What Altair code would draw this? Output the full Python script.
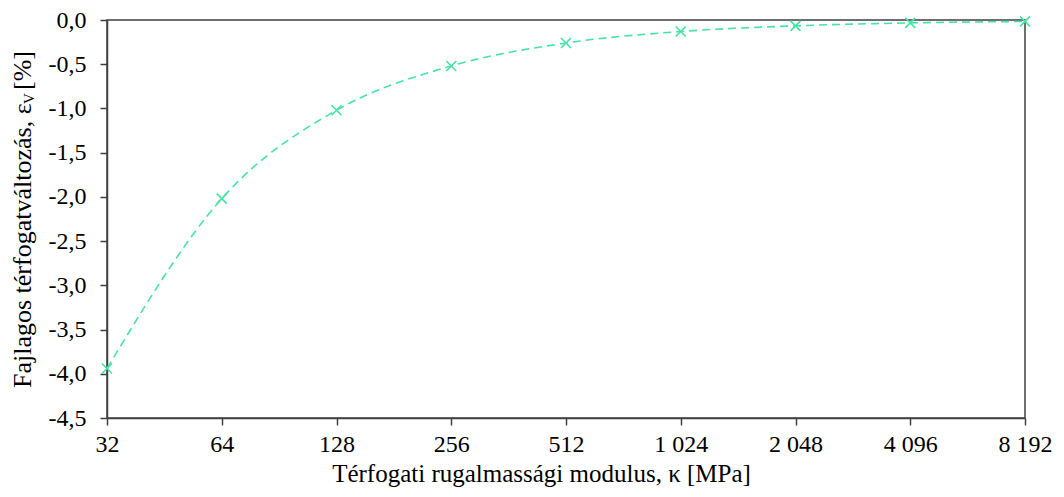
import altair as alt
import pandas as pd

kappa = [32, 64, 128, 256, 512, 1024, 2048, 4096, 8192]
eps_v = [-3.94, -2.02, -1.02, -0.52, -0.26, -0.13, -0.066, -0.033, -0.016]
x_tick_values = [32, 64, 128, 256, 512, 1024, 2048, 4096, 8192]
x_tick_labels = ["32", "64", "128", "256", "512", "1 024", "2 048", "4 096", "8 192"]
y_tick_values = [0.0, -0.5, -1.0, -1.5, -2.0, -2.5, -3.0, -3.5, -4.0, -4.5]

x_title = "Térfogati rugalmassági modulus, κ [MPa]"
y_title_main = "Fajlagos térfogatváltozás, ε"
y_title_sub = "V"
y_title_end = "[%]"

FONT = "Liberation Serif"
COLOR = "#45e3a5"
AX = "#404040"

df = pd.DataFrame({"kappa": kappa, "eps": eps_v})

# label expression for x ticks
expr = "''"
for v, l in zip(reversed(x_tick_values), reversed(x_tick_labels)):
    expr = f"datum.value == {v} ? '{l}' : ({expr})"

x_enc = alt.X(
    "kappa:Q",
    scale=alt.Scale(type="log", base=2, domain=[32, 8192], nice=False),
    axis=alt.Axis(
        values=x_tick_values, labelExpr=expr, title=x_title, grid=False,
        tickSize=7, labelPadding=7, titlePadding=5, labelFlush=False,
        labelOverlap=False, titleX=434, titleAnchor="middle", titleAlign="center",
    ),
)
y_enc = alt.Y(
    "eps:Q",
    scale=alt.Scale(domain=[-4.5, 0], nice=False),
    axis=alt.Axis(
        values=y_tick_values,
        labelExpr="(datum.value < 0 ? '-' : '') + replace(format(abs(datum.value), '.1f'), '.', ',')",
        title=None, grid=False, tickSize=7, labelPadding=14, labelFlush=False,
        labelOverlap=False,
    ),
)

base = alt.Chart(df)
line = base.mark_line(
    interpolate="monotone", color=COLOR, strokeWidth=1.6, strokeDash=[8, 5]
).encode(x=x_enc, y=y_enc)
pts = base.mark_point(
    shape="M-1,-1L1,1M1,-1L-1,1", filled=False, color=COLOR, size=100, strokeWidth=1.6, opacity=1
).encode(x="kappa:Q", y="eps:Q")

t1 = alt.Chart(pd.DataFrame({"t": [y_title_main]})).mark_text(
    angle=270, align="left", baseline="alphabetic", font=FONT, fontSize=26, color="black"
).encode(x=alt.value(-76), y=alt.value(368), text="t:N")
t2 = alt.Chart(pd.DataFrame({"t": [y_title_sub]})).mark_text(
    angle=270, align="left", baseline="alphabetic", font=FONT, fontSize=15, color="black"
).encode(x=alt.value(-73), y=alt.value(84), text="t:N")
t3 = alt.Chart(pd.DataFrame({"t": [y_title_end]})).mark_text(
    angle=270, align="left", baseline="alphabetic", font=FONT, fontSize=26, color="black"
).encode(x=alt.value(-76), y=alt.value(70), text="t:N")

chart = alt.layer(line, pts, t1, t2, t3).properties(
    width=918, height=398,
    autosize=alt.AutoSizeParams(type="none"),
    padding={"left": 99, "top": 12, "right": 31, "bottom": 71},
).configure_view(
    stroke=AX, strokeWidth=1.5
).configure_axis(
    labelFont=FONT, titleFont=FONT, labelFontSize=24, titleFontSize=25,
    labelColor="black", titleColor="black", titleFontWeight="normal",
    domainColor=AX, tickColor=AX, domainWidth=1.5, tickWidth=1.5,
)

chart.save("out.html", embed_options={"renderer": "svg", "actions": False})
